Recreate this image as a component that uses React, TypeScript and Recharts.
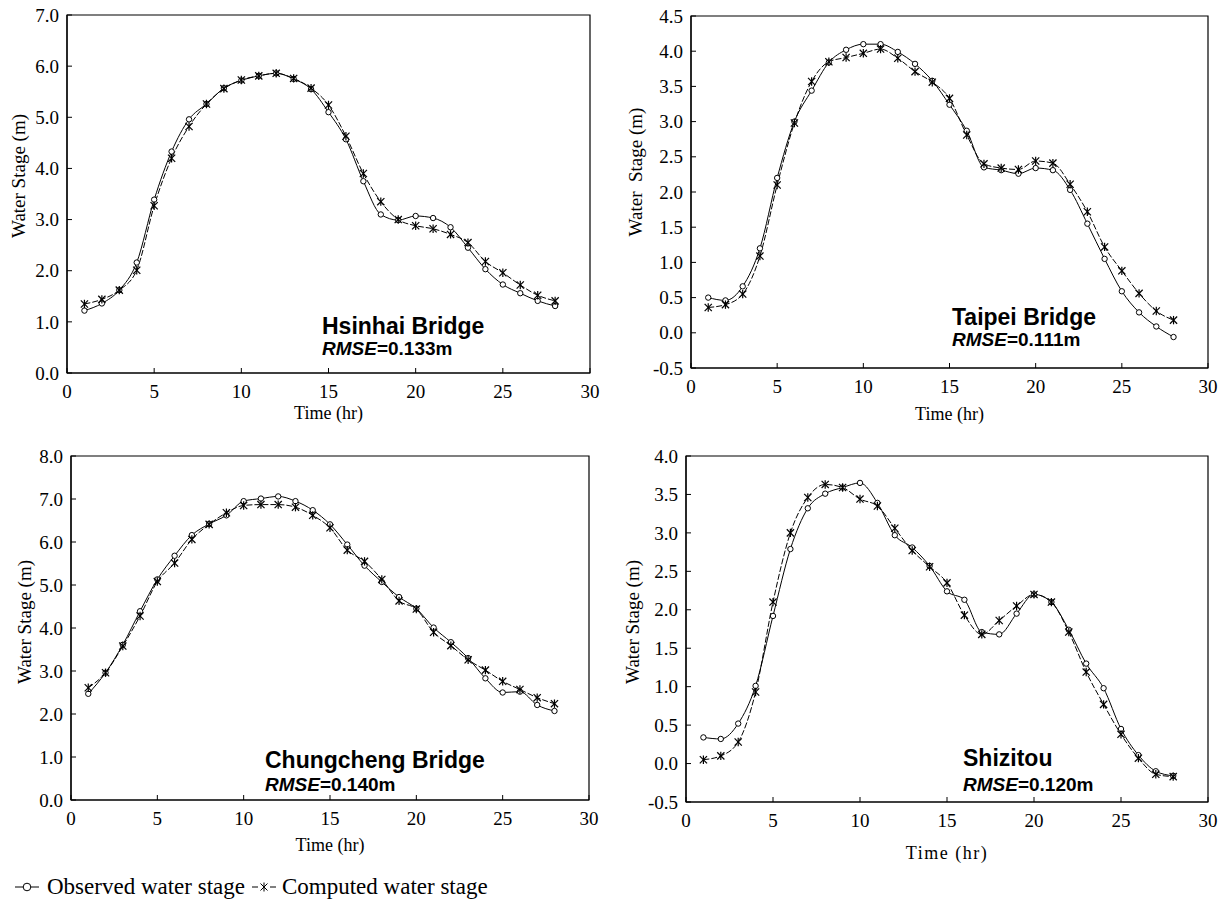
import { LineChart, Line, XAxis, YAxis, ReferenceArea } from 'recharts'

// hours of the event
const hours = [1, 2, 3, 4, 5, 6, 7, 8, 9, 10, 11, 12, 13, 14, 15, 16, 17, 18, 19, 20, 21, 22, 23, 24, 25, 26, 27, 28]
const xTicks = [0, 5, 10, 15, 20, 25, 30]

// Hsinhai Bridge
const hsinhaiObserved = [1.22, 1.36, 1.62, 2.16, 3.39, 4.33, 4.96, 5.26, 5.57, 5.72, 5.81, 5.86, 5.75, 5.55, 5.10, 4.57, 3.75, 3.10, 2.99, 3.07, 3.03, 2.85, 2.45, 2.03, 1.73, 1.56, 1.41, 1.31]
const hsinhaiComputed = [1.35, 1.44, 1.62, 2.01, 3.27, 4.20, 4.82, 5.26, 5.56, 5.73, 5.81, 5.86, 5.76, 5.57, 5.24, 4.63, 3.90, 3.35, 3.00, 2.88, 2.82, 2.71, 2.55, 2.18, 1.96, 1.72, 1.52, 1.41]
const hsinhaiTicks = [0, 1, 2, 3, 4, 5, 6, 7]

// Taipei Bridge
const taipeiObserved = [0.50, 0.46, 0.66, 1.20, 2.20, 3.00, 3.44, 3.84, 4.02, 4.10, 4.10, 3.99, 3.82, 3.58, 3.24, 2.87, 2.35, 2.31, 2.26, 2.34, 2.31, 2.03, 1.55, 1.05, 0.59, 0.29, 0.09, -0.06]
const taipeiComputed = [0.36, 0.40, 0.55, 1.09, 2.10, 2.98, 3.57, 3.85, 3.91, 3.97, 4.03, 3.90, 3.71, 3.56, 3.33, 2.81, 2.40, 2.34, 2.32, 2.44, 2.41, 2.11, 1.72, 1.22, 0.88, 0.56, 0.31, 0.18]
const taipeiTicks = [-0.5, 0, 0.5, 1, 1.5, 2, 2.5, 3, 3.5, 4, 4.5]

// Chungcheng Bridge
const chungchengObserved = [2.47, 2.96, 3.61, 4.39, 5.13, 5.68, 6.16, 6.42, 6.62, 6.95, 7.01, 7.06, 6.95, 6.74, 6.41, 5.94, 5.45, 5.07, 4.72, 4.45, 4.01, 3.67, 3.30, 2.83, 2.50, 2.52, 2.21, 2.07]
const chungchengComputed = [2.61, 2.96, 3.58, 4.28, 5.08, 5.51, 6.06, 6.41, 6.68, 6.85, 6.87, 6.87, 6.81, 6.62, 6.33, 5.81, 5.55, 5.13, 4.63, 4.44, 3.90, 3.59, 3.26, 3.02, 2.76, 2.57, 2.38, 2.24]
const chungchengTicks = [0, 1, 2, 3, 4, 5, 6, 7, 8]

// Shizitou
const shizitouObserved = [0.34, 0.32, 0.52, 1.01, 1.92, 2.79, 3.32, 3.51, 3.59, 3.65, 3.39, 2.97, 2.81, 2.57, 2.24, 2.13, 1.71, 1.68, 1.95, 2.20, 2.10, 1.74, 1.30, 0.98, 0.45, 0.11, -0.10, -0.16]
const shizitouComputed = [0.05, 0.10, 0.28, 0.93, 2.10, 3.00, 3.46, 3.63, 3.59, 3.44, 3.35, 3.06, 2.77, 2.56, 2.35, 1.93, 1.68, 1.86, 2.05, 2.20, 2.10, 1.71, 1.19, 0.77, 0.38, 0.07, -0.14, -0.17]
const shizitouTicks = [-0.5, 0, 0.5, 1, 1.5, 2, 2.5, 3, 3.5, 4]

const SERIF = '"Liberation Serif", "Times New Roman", serif'
const SANS = '"Liberation Sans", Arial, sans-serif'

const AXIS_W = 80
const PAD = 10
const AXIS_H = 70

function ObservedDot(props: any) {
  const { cx, cy } = props
  if (cx == null || cy == null) return null
  return <circle cx={cx} cy={cy} r={2.7} fill="#fff" stroke="#000" strokeWidth={1} />
}

function ComputedDot(props: any) {
  const { cx, cy } = props
  if (cx == null || cy == null) return null
  const s = 3.6
  return (
    <g stroke="#000" strokeWidth={1.2}>
      <line x1={cx - s} y1={cy - s} x2={cx + s} y2={cy + s} />
      <line x1={cx - s} y1={cy + s} x2={cx + s} y2={cy - s} />
      <line x1={cx} y1={cy - s - 0.6} x2={cx} y2={cy + s + 0.6} />
    </g>
  )
}

// ticks point inward, labels outside
function XTick({ x, y, payload }: any) {
  return (
    <g>
      <line x1={x} y1={y} x2={x} y2={y - 5} stroke="#000" />
      <text x={x} y={y + 12} dy="0.71em" textAnchor="middle" fontFamily={SERIF} fontSize={19} fill="#000">
        {payload.value}
      </text>
    </g>
  )
}

function YTick({ x, y, payload }: any) {
  return (
    <g>
      <line x1={x} y1={y} x2={x + 5} y2={y} stroke="#000" />
      <text x={x - 8} y={y} dy="0.35em" textAnchor="end" fontFamily={SERIF} fontSize={19} fill="#000">
        {Number(payload.value).toFixed(1)}
      </text>
    </g>
  )
}

interface PanelProps {
  box: [number, number, number, number]
  yDomain: [number, number]
  yTicks: number[]
  observed: number[]
  computed: number[]
  yTitle: string
  yTitleGap: number
  yTitleShift: number
  xTitleGap: number
  xTitleSpacing?: number
  station: string
  rmse: string
  labelLeft: number
  labelY: [number, number]
}

function Panel(p: PanelProps) {
  const [L, T, R, B] = p.box
  const width = R - L + AXIS_W + PAD
  const height = B - T + PAD + AXIS_H
  const data = hours.map((h, i) => ({ hour: h, observed: p.observed[i], computed: p.computed[i] }))

  return (
    <>
      <div style={{ position: 'absolute', left: L - AXIS_W, top: T - PAD }}>
        <LineChart width={width} height={height} data={data} margin={{ top: PAD, right: PAD, left: 0, bottom: 0 }}>
          <XAxis
            dataKey="hour"
            type="number"
            domain={[0, 30]}
            ticks={xTicks}
            interval={0}
            height={AXIS_H}
            axisLine={{ stroke: '#000', strokeWidth: 1.2 }}
            tickLine={false}
            tickSize={0}
            tickMargin={0}
            tick={<XTick />}
            label={{
              content: (lp: any) => (
                <text
                  x={lp.viewBox.x + lp.viewBox.width / 2}
                  y={lp.viewBox.y + p.xTitleGap}
                  dy="0.35em"
                  textAnchor="middle"
                  fontFamily={SERIF}
                  fontSize={18}
                  letterSpacing={p.xTitleSpacing ?? 0}
                  fill="#000"
                >
                  Time (hr)
                </text>
              ),
            }}
          />
          <YAxis
            type="number"
            domain={p.yDomain}
            ticks={p.yTicks}
            interval={0}
            width={AXIS_W}
            axisLine={{ stroke: '#000', strokeWidth: 1.2 }}
            tickLine={false}
            tickSize={0}
            tickMargin={0}
            tick={<YTick />}
            allowDataOverflow
            label={{
              content: (lp: any) => {
                const cx = lp.viewBox.x + lp.viewBox.width - p.yTitleGap
                const cy = lp.viewBox.y + lp.viewBox.height / 2 + p.yTitleShift
                return (
                  <text
                    x={cx}
                    y={cy}
                    dy="0.35em"
                    textAnchor="middle"
                    transform={`rotate(-90, ${cx}, ${cy})`}
                    fontFamily={SERIF}
                    fontSize={19}
                    fill="#000"
                    style={{ whiteSpace: 'pre' }}
                  >
                    {p.yTitle}
                  </text>
                )
              },
            }}
          />
          <ReferenceArea x1={0} x2={30} y1={p.yDomain[0]} y2={p.yDomain[1]} fill="none" stroke="#000" strokeWidth={1.2} />
          <Line
            dataKey="observed"
            type="monotone"
            stroke="#000"
            strokeWidth={1}
            dot={<ObservedDot />}
            activeDot={false}
            isAnimationActive={false}
          />
          <Line
            dataKey="computed"
            type="monotone"
            stroke="#000"
            strokeWidth={1}
            strokeDasharray="6 2"
            dot={<ComputedDot />}
            activeDot={false}
            isAnimationActive={false}
          />
        </LineChart>
      </div>
      <div style={{ position: 'absolute', left: p.labelLeft, top: p.labelY[0] - 12, fontFamily: SANS, fontWeight: 700, fontSize: 23, lineHeight: '24px', whiteSpace: 'nowrap' }}>
        {p.station}
      </div>
      <div style={{ position: 'absolute', left: p.labelLeft, top: p.labelY[1] - 10, fontFamily: SANS, fontWeight: 700, fontSize: 19, lineHeight: '20px', whiteSpace: 'nowrap' }}>
        <i>RMSE</i>={p.rmse}
      </div>
    </>
  )
}

export default function App() {
  return (
    <div style={{ position: 'absolute', left: 0, top: 0, width: 1220, height: 902, background: '#fff', overflow: 'hidden' }}>
      <Panel
        box={[67, 15, 590, 373]}
        yDomain={[0, 7]}
        yTicks={hsinhaiTicks}
        observed={hsinhaiObserved}
        computed={hsinhaiComputed}
        yTitle="Water Stage (m)"
        yTitleGap={49}
        yTitleShift={-18}
        xTitleGap={40}
        station="Hsinhai Bridge"
        rmse="0.133m"
        labelLeft={322}
        labelY={[326, 349]}
      />
      <Panel
        box={[691, 16, 1208, 368]}
        yDomain={[-0.5, 4.5]}
        yTicks={taipeiTicks}
        observed={taipeiObserved}
        computed={taipeiComputed}
        yTitle="Water  Stage (m)"
        yTitleGap={56}
        yTitleShift={-20}
        xTitleGap={46}
        station="Taipei Bridge"
        rmse="0.111m"
        labelLeft={952}
        labelY={[317, 340]}
      />
      <Panel
        box={[71, 456, 589, 800]}
        yDomain={[0, 8]}
        yTicks={chungchengTicks}
        observed={chungchengObserved}
        computed={chungchengComputed}
        yTitle="Water Stage (m)"
        yTitleGap={47}
        yTitleShift={-6}
        xTitleGap={45}
        station="Chungcheng Bridge"
        rmse="0.140m"
        labelLeft={265}
        labelY={[760, 785]}
      />
      <Panel
        box={[686, 456, 1208, 802]}
        yDomain={[-0.5, 4]}
        yTicks={shizitouTicks}
        observed={shizitouObserved}
        computed={shizitouComputed}
        yTitle="Water Stage (m)"
        yTitleGap={54}
        yTitleShift={-7}
        xTitleGap={51}
        xTitleSpacing={1.5}
        station="Shizitou"
        rmse="0.120m"
        labelLeft={963}
        labelY={[758, 785]}
      />
      <div style={{ position: 'absolute', left: 14, top: 874, display: 'flex', alignItems: 'center', fontFamily: SERIF, fontSize: 23, whiteSpace: 'nowrap', lineHeight: '26px' }}>
        <svg width={26} height={12} style={{ marginRight: 7 }}>
          <line x1={1} y1={6} x2={25} y2={6} stroke="#000" strokeWidth={1} />
          <circle cx={13} cy={6} r={3.8} fill="#fff" stroke="#000" strokeWidth={1} />
        </svg>
        <span>Observed water stage</span>
        <svg width={26} height={12} style={{ marginLeft: 6, marginRight: 5 }}>
          <line x1={1} y1={6} x2={7} y2={6} stroke="#000" strokeWidth={1} />
          <line x1={19} y1={6} x2={25} y2={6} stroke="#000" strokeWidth={1} />
          <line x1={9.5} y1={2.5} x2={16.5} y2={9.5} stroke="#000" strokeWidth={1} />
          <line x1={9.5} y1={9.5} x2={16.5} y2={2.5} stroke="#000" strokeWidth={1} />
          <line x1={13} y1={1.5} x2={13} y2={10.5} stroke="#000" strokeWidth={1} />
        </svg>
        <span>Computed water stage</span>
      </div>
    </div>
  )
}
